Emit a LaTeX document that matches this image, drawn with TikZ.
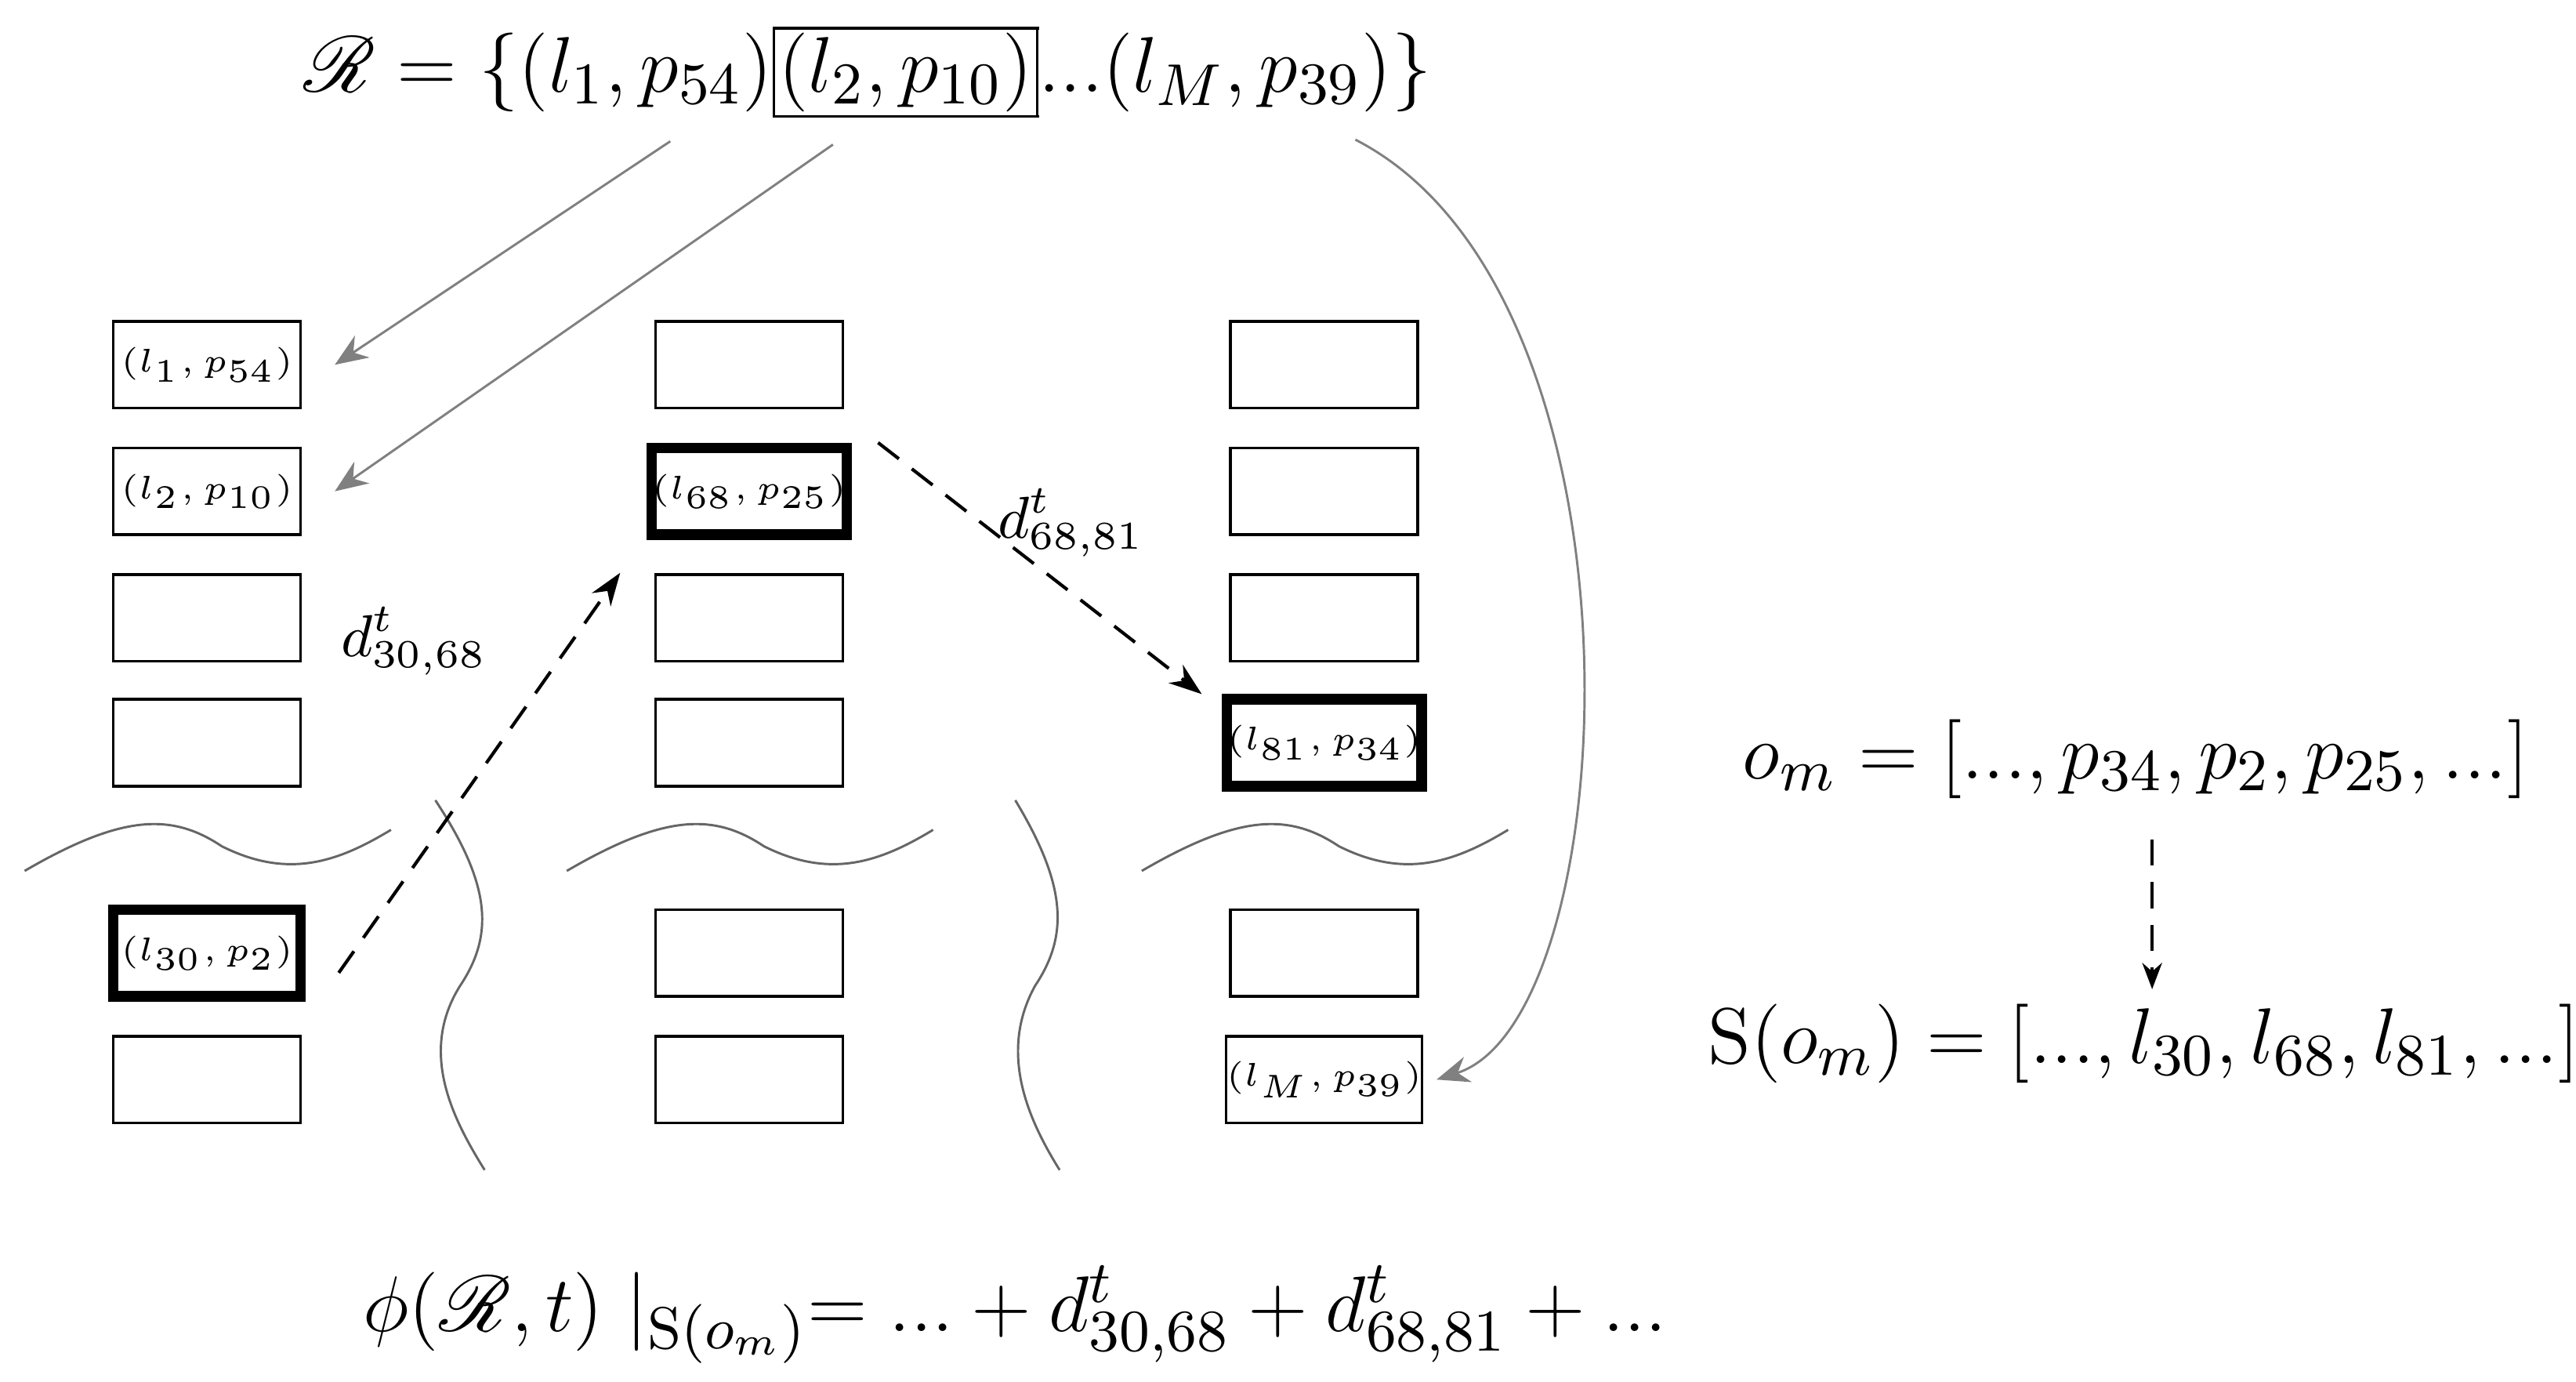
\documentclass[tikz,border=0pt]{standalone}
\usepackage{mathrsfs}
\usetikzlibrary{arrows.meta}
\begin{document}
\begin{tikzpicture}[x=0.25pt,y=-0.25pt,
  cell/.style={draw,minimum width=28.5pt,minimum height=13.2pt,inner sep=0pt,font=\fontsize{5.2}{6}\selectfont},
  hot/.style={cell,line width=1.6pt},
  gray arrow/.style={draw=gray,-{Stealth[length=5pt,width=4pt]},line width=0.35pt},
  dash arrow/.style={dashed,dash pattern=on 4pt off 2.5pt,line width=0.5pt,-{Stealth[length=5pt,width=3.5pt]}},
  wave/.style={draw=gray!80!black,line width=0.35pt},
  lbl/.style={font=\fontsize{9}{10}\selectfont,inner sep=0pt},
  big/.style={font=\fontsize{12.5}{15}\selectfont,inner sep=0pt}]
\useasboundingbox (0,0) rectangle (1568,841);
% column 1
\node[cell] (a1) at (126,222) {$(l_1,p_{54})$};
\node[cell] (a2) at (126,299) {$(l_2,p_{10})$};
\node[cell] (a3) at (126,376) {};
\node[cell] (a4) at (126,452) {};
\node[hot]  (a5) at (126,580) {$(l_{30},p_2)$};
\node[cell] (a6) at (126,657) {};
% column 2
\node[cell] (b1) at (456,222) {};
\node[hot]  (b2) at (456,299) {$(l_{68},p_{25})$};
\node[cell] (b3) at (456,376) {};
\node[cell] (b4) at (456,452) {};
\node[cell] (b5) at (456,580) {};
\node[cell] (b6) at (456,657) {};
% column 3
\node[cell] (c1) at (806,222) {};
\node[cell] (c2) at (806,299) {};
\node[cell] (c3) at (806,376) {};
\node[hot]  (c4) at (806,452) {$(l_{81},p_{34})$};
\node[cell] (c5) at (806,580) {};
\node[cell] (c6) at (806,657) {$(l_M,p_{39})$};
% waves
\foreach \x in {15,345,695}{
  \draw[wave] (\x,530) .. controls (\x+60,495) and (\x+90,495) .. (\x+120,515) .. controls (\x+160,535) and (\x+190,525) .. (\x+223,505);
}
\draw[wave] (265,487) .. controls (300,540) and (300,570) .. (280,600) .. controls (255,640) and (275,680) .. (295,712);
\draw[wave] (618,487) .. controls (650,540) and (650,570) .. (630,600) .. controls (608,640) and (625,680) .. (645,712);
% top formula
\node[big] (R) at (528,44) {$\mathscr{R}=\{(l_1,p_{54})\setlength{\fboxsep}{0.5pt}\fbox{$(l_2,p_{10})$}...(l_M,p_{39})\}$};
\coordinate (s1) at (408,86);
\coordinate (s2) at (507,88);
\coordinate (s3) at (825,85);
\draw[gray arrow] (s1) -- ([xshift=5pt]a1.east);
\draw[gray arrow] (s2) -- ([xshift=5pt]a2.east);
\draw[gray arrow] (s3) .. controls (1010,180) and (990,620) .. ([xshift=2pt]c6.east);
% dashed
\draw[dash arrow] ([xshift=5pt,yshift=-3pt]a5.east) -- ([xshift=-4pt,yshift=-5pt]b2.south west);
\draw[dash arrow] ([xshift=4pt]b2.north east) -- ([xshift=-3pt]c4.north west);
\node[lbl] (d1) at (252,390) {$d^t_{30,68}$};
\node[lbl] (d2) at (652,318) {$d^t_{68,81}$};
% right
\node[big] (om) at (1300,462) {$o_m=[...,p_{34},p_2,p_{25},...]$};
\node[big] (so) at (1305,635) {$\mathrm{S}(o_m)=[...,l_{30},l_{68},l_{81},...]$};
\coordinate (dt) at (1310,602);
\draw[dash arrow,-{Stealth[length=4pt,width=3pt]}] ([yshift=-6pt]om.south -| dt) -- (dt);
% bottom
\node[big] (phi) at (618,800) {$\phi(\mathscr{R},t)\mid_{\mathrm{S}(o_m)}=...+d^t_{30,68}+d^t_{68,81}+...$};
\end{tikzpicture}
\end{document}
